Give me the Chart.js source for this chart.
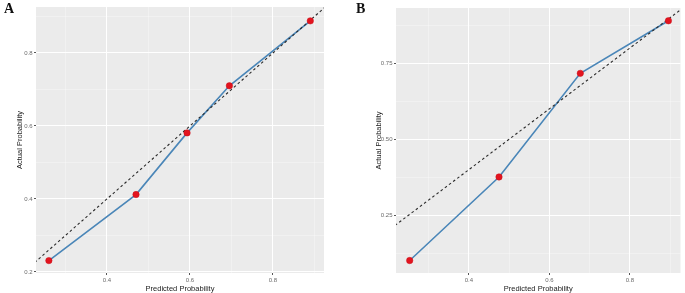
<!DOCTYPE html>
<html>
<head>
<meta charset="utf-8">
<script src="https://cdn.jsdelivr.net/npm/chart.js@4.4.1/dist/chart.umd.min.js"></script>
<style>
  html, body { margin: 0; padding: 0; background: #fff; }
  #wrap { position: relative; width: 685px; height: 293px; overflow: hidden; }
  .panel { position: absolute; top: 0; height: 293px; }
  .tag { position: absolute; top: 1px; font: bold 14px "Liberation Serif", "DejaVu Serif", serif; color: #111; }
</style>
</head>
<body>
<div id="wrap">
  <div class="panel" style="left:0;width:345px"><canvas id="chart-a"></canvas></div>
  <div class="panel" style="left:345px;width:340px"><canvas id="chart-b"></canvas></div>
  <div class="tag" style="left:4px">A</div>
  <div class="tag" style="left:356px">B</div>
</div>
<script>
// Panel A calibration points
const predictedA = [0.26, 0.47, 0.593, 0.695, 0.89];
const actualA = [0.231, 0.412, 0.581, 0.71, 0.888];
// Panel B calibration points
const predictedB = [0.253, 0.475, 0.677, 0.896];
const actualB = [0.101, 0.376, 0.717, 0.89];

// Reference diagonal (y = x)
const refLine = [0, 1];

// Axis ticks (labelled) and minor grid positions
const xMajorA = [0.4, 0.6, 0.8];
const xMinorA = [0.3, 0.5, 0.7, 0.9];
const yMajorA = [0.2, 0.4, 0.6, 0.8];
const yMinorA = [0.3, 0.5, 0.7, 0.9];
const xMajorB = [0.4, 0.6, 0.8];
const xMinorB = [0.3, 0.5, 0.7, 0.9];
const yMajorB = [0.25, 0.5, 0.75];
const yMinorB = [0.125, 0.375, 0.625, 0.875];
const yLabelsB = ['0.25', '0.50', '0.75'];

const panelBg = {
    id: 'panelBg',
    beforeDraw(chart) {
        const { ctx, chartArea: a } = chart;
        ctx.save();
        ctx.fillStyle = '#EBEBEB';
        ctx.fillRect(a.left, a.top, a.right - a.left, a.bottom - a.top);
        ctx.restore();
    }
};

const isMajor = (list, v) => list.some(m => Math.abs(m - v) < 1e-6);

function axis(major, minor, opts) {
    const all = major.concat(minor).sort((a, b) => a - b);
    return {
        type: 'linear',
        min: opts.min, max: opts.max,
        border: { display: false },
        afterBuildTicks: s => { s.ticks = all.map(v => ({ value: v })); },
        afterFit: s => {
            if (opts.width !== undefined) s.width = opts.width;
            if (opts.height !== undefined) s.height = opts.height;
        },
        grid: {
            color: c => isMajor(major, c.tick.value) ? '#FFFFFF' : 'rgba(255,255,255,0.55)',
            lineWidth: c => isMajor(major, c.tick.value) ? 1 : 0.6,
            tickColor: c => isMajor(major, c.tick.value) ? '#555' : 'rgba(0,0,0,0)',
            tickLength: 2,
            drawTicks: true
        },
        ticks: {
            autoSkip: false, maxRotation: 0,
            padding: 1.5,
            color: '#6B6B6B',
            font: { family: 'Liberation Sans', size: 6 },
            callback: v => {
                const i = major.findIndex(m => Math.abs(m - v) < 1e-6);
                if (i < 0) return '';
                return opts.labels ? opts.labels[i] : String(v);
            }
        },
        title: {
            display: true, text: opts.title, color: '#222',
            font: { family: 'Liberation Sans', size: 7.5 },
            padding: opts.titlePad
        }
    };
}

function makeChart(id, pred, act, cfg) {
    const pts = pred.map((p, i) => ({ x: p, y: act[i] }));
    new Chart(document.getElementById(id).getContext('2d'), {
        type: 'scatter',
        data: {
            datasets: [
                { data: pts, showLine: false, pointRadius: 3.2,
                  pointBackgroundColor: '#E3141F', pointBorderColor: '#C81018', pointBorderWidth: 0.5 },
                { data: refLine.map(v => ({ x: v, y: v })), showLine: true, pointRadius: 0,
                  borderColor: '#2A2A2A', borderWidth: 1.1, borderDash: [2.6, 2.6] },
                { data: pts, showLine: true, pointRadius: 0,
                  borderColor: '#4A86B8', borderWidth: 1.6 }
            ]
        },
        options: {
            responsive: true, maintainAspectRatio: false, animation: false,
            layout: { padding: cfg.padding },
            plugins: { legend: { display: false }, tooltip: { enabled: false } },
            scales: {
                x: axis(cfg.xMajor, cfg.xMinor, { min: cfg.xMin, max: cfg.xMax, height: 20,
                    title: 'Predicted Probability', titlePad: { top: 1, bottom: 0 } }),
                y: axis(cfg.yMajor, cfg.yMinor, { min: cfg.yMin, max: cfg.yMax, width: cfg.yWidth,
                    labels: cfg.yLabels, title: 'Actual Probability', titlePad: { top: 0, bottom: 0 } })
            }
        },
        plugins: [panelBg]
    });
}

makeChart('chart-a', predictedA, actualA, {
    xMajor: xMajorA, xMinor: xMinorA, yMajor: yMajorA, yMinor: yMinorA,
    xMin: 0.229, xMax: 0.923, yMin: 0.197, yMax: 0.926,
    yWidth: 21, padding: { left: 15, right: 21, top: 7, bottom: 0 }
});
makeChart('chart-b', predictedB, actualB, {
    xMajor: xMajorB, xMinor: xMinorB, yMajor: yMajorB, yMinor: yMinorB, yLabels: yLabelsB,
    xMin: 0.219, xMax: 0.926, yMin: 0.06, yMax: 0.932,
    yWidth: 22, padding: { left: 29, right: 3, top: 8, bottom: 0 }
});
</script>
</body>
</html>
